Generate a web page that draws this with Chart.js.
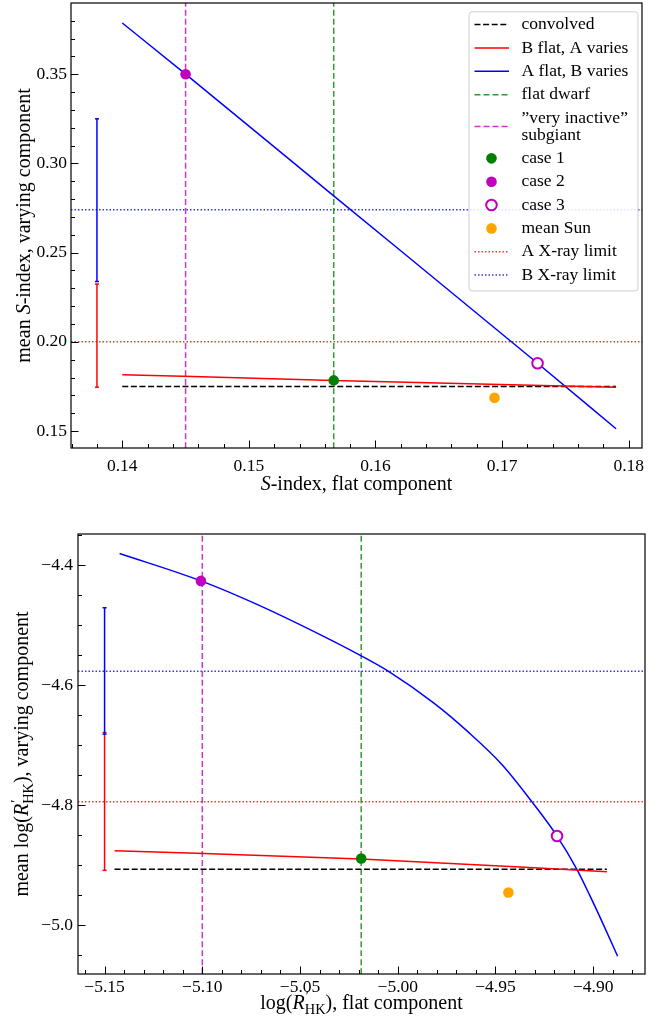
<!DOCTYPE html>
<html>
<head>
<meta charset="utf-8">
<script src="https://cdn.jsdelivr.net/npm/chart.js@4.4.0/dist/chart.umd.min.js"></script>
<style>
html, body { margin:0; padding:0; background:#fff; }
#wrap { position:relative; width:665px; height:1017px; }
canvas { position:absolute; left:0; }
#topChart { top:0; }
#botChart { top:505px; }
</style>
</head>
<body>
<div id="wrap">
<canvas id="topChart" width="665" height="505"></canvas>
<canvas id="botChart" width="665" height="512"></canvas>
</div>
<script>
// ---- top panel: S-index ----
const topXTicks = [0.14, 0.15, 0.16, 0.17, 0.18];
const topYTicks = [0.15, 0.20, 0.25, 0.30, 0.35];
const topXLim = [0.13595, 0.18105];
const topYLim = [0.1405, 0.3899];
const topConvX = [0.1400, 0.1790];
const topConvY = [0.1750, 0.1750];
const topRedX = [0.1400, 0.1567, 0.1790];
const topRedY = [0.1816, 0.1784, 0.1745];
const topBlueX = [0.1400, 0.1450, 0.1567, 0.1728, 0.1790];
const topBlueY = [0.3787, 0.3500, 0.2818, 0.1880, 0.1513];
const topDwarfX = 0.1567;
const topSubgiantX = 0.1450;
const topCase1 = [0.1567, 0.1784];
const topCase2 = [0.1450, 0.3500];
const topCase3 = [0.1728, 0.1880];
const topSun = [0.1694, 0.1686];
const topXrayA = 0.200;
const topXrayB = 0.274;
const topErrX = 0.138;
const topErrBlue = [0.2338, 0.3250];
const topErrRed = [0.1746, 0.2324];

// ---- bottom panel: log R'HK ----
const botXTicks = [-5.15, -5.10, -5.05, -5.00, -4.95, -4.90];
const botYTicks = [-4.4, -4.6, -4.8, -5.0];
const botXLim = [-5.1636, -4.8735];
const botYLim = [-5.0817, -4.348];
const botConvX = [-5.1449, -4.8930];
const botConvY = [-4.9070, -4.9070];
const botRedX = [-5.1449, -5.0187, -4.8930];
const botRedY = [-4.8760, -4.8900, -4.9110];
const botBlueX = [-5.1423, -5.1007, -5.0723, -5.0382, -5.0194, -5.0049, -4.9815, -4.9640, -4.9465, -4.9303, -4.9185, -4.9082, -4.9017, -4.8949, -4.8875];
const botBlueY = [-4.3805, -4.4262, -4.4650, -4.5183, -4.5500, -4.5767, -4.6300, -4.6780, -4.7330, -4.7990, -4.8517, -4.9080, -4.9510, -4.9985, -5.0520];
const botDwarfX = -5.0187;
const botSubgiantX = -5.100;
const botCase1 = [-5.0187, -4.8890];
const botCase2 = [-5.1007, -4.4262];
const botCase3 = [-4.9185, -4.8517];
const botSun = [-4.9434, -4.9457];
const botXrayA = -4.7945;
const botXrayB = -4.5767;
const botErrX = -5.150;
const botErrBlue = [-4.6817, -4.4710];
const botErrRed = [-4.9089, -4.6790];

const FONT = '"Liberation Serif", "DejaVu Serif", serif';
const GREEN_LINE = 'rgba(0,128,0,0.8)';
const MAG_LINE = 'rgba(191,0,191,0.8)';

function pts(xs, ys) {
    return xs.map((x, i) => ({x: x, y: ys[i]}));
}
function lineSet(label, xs, ys, color, dash, order) {
    return {label: label, data: pts(xs, ys), showLine: true, borderColor: color, borderWidth: 1.5,
        borderDash: dash || [], pointRadius: 0, pointHoverRadius: 0, order: order || 5,
        cubicInterpolationMode: 'monotone'};
}
function dotSet(label, p, fill, stroke) {
    return {label: label, data: [{x: p[0], y: p[1]}], showLine: false, pointRadius: 5.3,
        pointBackgroundColor: fill, pointBorderColor: stroke || fill, pointBorderWidth: stroke ? 2 : 0, order: 0};
}
function errSet(x, lohi, color) {
    return {data: pts([x, x], lohi), showLine: true, borderColor: color, borderWidth: 1.5,
        pointStyle: 'line', pointRadius: 2, pointBorderColor: color, pointBorderWidth: 1.5, order: 4};
}

function makeDatasets(p) {
    return [
        lineSet('convolved', p.convX, p.convY, '#000', [6, 2.6], 3),
        lineSet('B flat, A varies', p.redX, p.redY, '#ff0000', [], 2),
        lineSet('A flat, B varies', p.blueX, p.blueY, '#0000ff', [], 2),
        lineSet('flat dwarf', [p.dwarfX, p.dwarfX], p.yLim, GREEN_LINE, [6, 3], 4),
        lineSet('\u201dvery inactive\u201d\nsubgiant', [p.subX, p.subX], p.yLim, MAG_LINE, [6, 3], 4),
        dotSet('case 1', p.c1, '#008000'),
        dotSet('case 2', p.c2, '#bf00bf'),
        dotSet('case 3', p.c3, '#ffffff', '#bf00bf'),
        dotSet('mean Sun', p.sun, '#ffa500'),
        lineSet('A X-ray limit', p.xLim, [p.xa, p.xa], 'rgba(255,0,0,0.8)', [1.5, 2], 4),
        lineSet('B X-ray limit', p.xLim, [p.xb, p.xb], 'rgba(0,0,255,0.8)', [1.5, 2], 4),
        errSet(p.errX, p.errBlue, '#0000ff'),
        errSet(p.errX, p.errRed, '#ff0000')
    ];
}

// inward ticks and full frame, like matplotlib
const frameTicks = {
    id: 'frameTicks',
    afterDraw(chart, args, o) {
        const ctx = chart.ctx, a = chart.chartArea;
        const sx = chart.scales.x, sy = chart.scales.y;
        ctx.save();
        ctx.strokeStyle = '#000';
        ctx.lineWidth = 1;
        ctx.beginPath();
        const vx = (v, len) => {
            const px = Math.round(sx.getPixelForValue(v)) + 0.5;
            ctx.moveTo(px, a.bottom); ctx.lineTo(px, a.bottom - len);
        };
        const vy = (v, len) => {
            const py = Math.round(sy.getPixelForValue(v)) + 0.5;
            ctx.moveTo(a.left, py); ctx.lineTo(a.left + len, py);
        };
        for (let k = Math.ceil(sx.min / o.xMinor - 1e-6); k * o.xMinor <= sx.max; k++) vx(k * o.xMinor, 4);
        for (let k = Math.ceil(sy.min / o.yMinor - 1e-6); k * o.yMinor <= sy.max; k++) vy(k * o.yMinor, 4);
        sx.ticks.forEach(t => vx(t.value, 7.5));
        sy.ticks.forEach(t => vy(t.value, 7.5));
        ctx.stroke();
        ctx.lineWidth = 1.2;
        ctx.strokeRect(a.left, a.top, a.right - a.left, a.bottom - a.top);
        ctx.restore();
    }
};

// axis titles with italic / subscript parts
function segFont(size, it) {
    return (it ? 'italic ' : '') + size + 'px ' + FONT;
}
function segWidth(ctx, s, size) {
    if (s.stack) {
        ctx.font = segFont(size * 0.72, false);
        const w1 = ctx.measureText(s.sup).width, w2 = ctx.measureText(s.sub).width;
        return Math.max(w1, w2);
    }
    ctx.font = segFont(size, s.i);
    return ctx.measureText(s.t).width;
}
function drawRich(ctx, segs, cx, cy, size, rot) {
    ctx.save();
    ctx.translate(cx, cy);
    if (rot) ctx.rotate(-Math.PI / 2);
    ctx.fillStyle = '#000';
    ctx.textBaseline = 'alphabetic';
    ctx.textAlign = 'left';
    let total = 0;
    segs.forEach(s => total += segWidth(ctx, s, size));
    let x = -total / 2;
    const base = size * 0.33;
    segs.forEach(s => {
        const w = segWidth(ctx, s, size);
        if (s.stack) {
            ctx.font = segFont(size * 0.72, false);
            ctx.fillText(s.sup, x + 1, base - size * 0.38);
            ctx.fillText(s.sub, x, base + size * 0.25);
        } else {
            ctx.font = segFont(size, s.i);
            ctx.fillText(s.t, x, base);
        }
        x += w;
    });
    ctx.restore();
}
const axisTitles = {
    id: 'axisTitles',
    afterDraw(chart, args, o) {
        const a = chart.chartArea, ctx = chart.ctx;
        drawRich(ctx, o.x, (a.left + a.right) / 2, o.xPos, o.size, false);
        drawRich(ctx, o.y, o.yPos, (a.top + a.bottom) / 2, o.size, true);
    }
};

// legend box drawn from the datasets that carry a label
const legendBox = {
    id: 'legendBox',
    afterDraw(chart, args, o) {
        if (!o.show) return;
        const ctx = chart.ctx, a = chart.chartArea;
        const items = chart.data.datasets.filter(d => d.label);
        const rowH = 23.35, lineH = 17;
        const x0 = a.right - 173.5, y0 = a.top + 8.3, w = 169;
        let h = 13.3 + 15.3;
        items.forEach((d, i) => {
            h += (d.label.split('\n').length - 1) * lineH;
            if (i > 0) h += rowH;
        });
        ctx.save();
        ctx.beginPath();
        ctx.roundRect(x0 + 0.5, y0 + 0.5, w, h, 3);
        ctx.fillStyle = 'rgba(255,255,255,0.85)';
        ctx.fill();
        ctx.strokeStyle = '#cfcfcf';
        ctx.lineWidth = 1;
        ctx.stroke();
        let cy = y0 + 13.3;
        items.forEach(d => {
            const lines = d.label.split('\n');
            const hy = cy + (lines.length - 1) * lineH / 2;
            if (d.showLine) {
                ctx.beginPath();
                ctx.setLineDash(d.borderDash || []);
                ctx.strokeStyle = d.borderColor;
                ctx.lineWidth = d.borderWidth;
                ctx.moveTo(x0 + 6, hy);
                ctx.lineTo(x0 + 40.5, hy);
                ctx.stroke();
                ctx.setLineDash([]);
            } else {
                ctx.beginPath();
                ctx.arc(x0 + 23, hy, d.pointRadius, 0, Math.PI * 2);
                ctx.fillStyle = d.pointBackgroundColor;
                ctx.fill();
                if (d.pointBorderWidth) {
                    ctx.lineWidth = d.pointBorderWidth;
                    ctx.strokeStyle = d.pointBorderColor;
                    ctx.stroke();
                }
            }
            ctx.fillStyle = '#000';
            ctx.font = '17.5px ' + FONT;
            ctx.textBaseline = 'middle';
            lines.forEach((t, j) => ctx.fillText(t, x0 + 53, cy + j * lineH));
            cy += (lines.length - 1) * lineH + rowH;
        });
        ctx.restore();
    }
};

function makeChart(id, cfg) {
    const fmt = cfg.fmt;
    return new Chart(document.getElementById(id), {
        type: 'scatter',
        data: {datasets: makeDatasets(cfg.p)},
        plugins: [frameTicks, axisTitles, legendBox],
        options: {
            responsive: false,
            animation: false,
            layout: {padding: cfg.pad, autoPadding: false},
            plugins: {
                legend: {display: false},
                tooltip: {enabled: false},
                frameTicks: {xMinor: cfg.xMinor, yMinor: cfg.yMinor},
                axisTitles: cfg.titles,
                legendBox: {show: cfg.legend}
            },
            scales: {
                x: {
                    type: 'linear', min: cfg.p.xLim[0], max: cfg.p.xLim[1],
                    grid: {display: false, drawTicks: false},
                    border: {display: false},
                    afterBuildTicks: s => { s.ticks = cfg.xTicks.map(v => ({value: v})); },
                    afterFit: s => { s.height = cfg.xH; s.paddingLeft = 0; s.paddingRight = 0; },
                    ticks: {autoSkip: false, maxRotation: 0, padding: cfg.xPad, color: '#000',
                        font: {family: FONT, size: 17.5}, callback: v => fmt(v, 2)}
                },
                y: {
                    type: 'linear', min: cfg.p.yLim[0], max: cfg.p.yLim[1],
                    grid: {display: false, drawTicks: false},
                    border: {display: false},
                    afterBuildTicks: s => { s.ticks = cfg.yTicks.map(v => ({value: v})); },
                    afterFit: s => { s.width = cfg.yW; s.paddingTop = 0; s.paddingBottom = 0; },
                    ticks: {autoSkip: false, padding: cfg.yPad, color: '#000',
                        font: {family: FONT, size: 17.5}, callback: v => fmt(v, cfg.yDec)}
                }
            }
        }
    });
}

const numFmt = (v, d) => (v < 0 ? '\u2212' : '') + Math.abs(v).toFixed(d);

makeChart('topChart', {
    p: {convX: topConvX, convY: topConvY, redX: topRedX, redY: topRedY, blueX: topBlueX, blueY: topBlueY,
        dwarfX: topDwarfX, subX: topSubgiantX, c1: topCase1, c2: topCase2, c3: topCase3, sun: topSun,
        xa: topXrayA, xb: topXrayB, errX: topErrX, errBlue: topErrBlue, errRed: topErrRed,
        xLim: topXLim, yLim: topYLim},
    xTicks: topXTicks, yTicks: topYTicks, xMinor: 0.002, yMinor: 0.01, yDec: 2, fmt: numFmt,
    pad: {top: 3, right: 23, left: 0, bottom: 0}, xH: 57, yW: 71, xPad: 8, yPad: 4, legend: true,
    titles: {size: 20, xPos: 483, yPos: 23.5,
        x: [{t: 'S', i: true}, {t: '-index, flat component'}],
        y: [{t: 'mean '}, {t: 'S', i: true}, {t: '-index, varying component'}]}
});

makeChart('botChart', {
    p: {convX: botConvX, convY: botConvY, redX: botRedX, redY: botRedY, blueX: botBlueX, blueY: botBlueY,
        dwarfX: botDwarfX, subX: botSubgiantX, c1: botCase1, c2: botCase2, c3: botCase3, sun: botSun,
        xa: botXrayA, xb: botXrayB, errX: botErrX, errBlue: botErrBlue, errRed: botErrRed,
        xLim: botXLim, yLim: botYLim},
    xTicks: botXTicks, yTicks: botYTicks, xMinor: 0.01, yMinor: 0.05, yDec: 1, fmt: numFmt,
    pad: {top: 29, right: 20, left: 0, bottom: 0}, xH: 43, yW: 78, xPad: 3, yPad: 5, legend: false,
    titles: {size: 20, xPos: 497, yPos: 21.5,
        x: [{t: 'log('}, {t: 'R', i: true}, {stack: true, sup: '\u2032', sub: 'HK'}, {t: '), flat component'}],
        y: [{t: 'mean log('}, {t: 'R', i: true}, {stack: true, sup: '\u2032', sub: 'HK'}, {t: '), varying component'}]}
});
</script>
</body>
</html>
